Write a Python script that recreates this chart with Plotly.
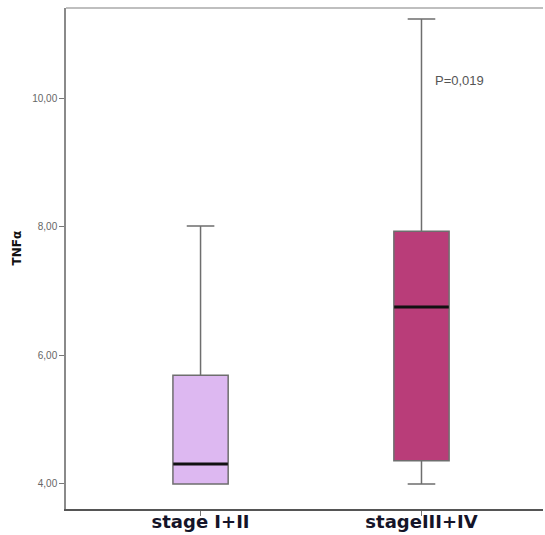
import plotly.graph_objects as go

categories = ["stage I+II", "stageIII+IV"]
q1 = [4.00, 4.36]
medians = [4.31, 6.75]
q3 = [5.69, 7.93]
lower = [4.00, 4.00]
upper = [8.01, 11.23]
fills = ["#DDB8F1", "#B93D79"]

ytick_vals = [4, 6, 8, 10]
ytick_text = ["4,00", "6,00", "8,00", "10,00"]

fig = go.Figure()
for i, cat in enumerate(categories):
    fig.add_trace(go.Box(
        x=[cat], q1=[q1[i]], median=[medians[i]], q3=[q3[i]],
        lowerfence=[lower[i]], upperfence=[upper[i]],
        fillcolor=fills[i], line=dict(color="#6e6e6e", width=1.5),
        width=0.25, whiskerwidth=0.5, boxpoints=False,
        hoverinfo="skip", showlegend=False,
    ))

fig.add_trace(go.Scatter(
    x=categories, y=medians, mode="markers",
    marker=dict(symbol="line-ew", size=39, color="black",
                line=dict(color="#111111", width=3)),
    hoverinfo="skip", showlegend=False,
))

fig.update_layout(
    width=545, height=535,
    margin=dict(l=66, r=2, t=8, b=26),
    plot_bgcolor="white", paper_bgcolor="white",
    xaxis=dict(
        type="category", range=[-0.609, 1.55], automargin=False,
        showline=True, linecolor="#555555", linewidth=1.5,
        ticks="outside", ticklen=5, tickcolor="#777777",
        ticklabelstandoff=-9,
        showgrid=False, zeroline=False,
        tickfont=dict(family="DejaVu Sans, sans-serif", size=18,
                      color="#141428", weight="bold"),
    ),
    yaxis=dict(
        range=[3.61, 11.40], automargin=False,
        tickvals=ytick_vals, ticktext=ytick_text,
        showline=True, linecolor="#8a8a8a", linewidth=1.5,
        ticks="outside", ticklen=5, tickcolor="#777777",
        showgrid=False, zeroline=False,
        tickfont=dict(family="Liberation Sans Narrow, Arial Narrow, sans-serif",
                      size=10, color="#666666"),
    ),
    shapes=[dict(type="line", xref="paper", yref="paper", x0=0, x1=1, y0=1, y1=1,
                 line=dict(color="#aaaaaa", width=1.5))],
    annotations=[
        dict(text="TNFα", xref="paper", yref="paper", x=-0.1027, y=0.52,
             textangle=-90, showarrow=False, xanchor="center", yanchor="middle",
             font=dict(family="DejaVu Sans, sans-serif", size=12,
                       color="#111111", weight="bold")),
        dict(text="P=0,019", xref="paper", yref="paper", x=0.824, y=0.856,
             showarrow=False, xanchor="center", yanchor="middle",
             font=dict(family="Liberation Sans Narrow, Arial Narrow, sans-serif",
                       size=13, color="#555555")),
    ],
)

fig.write_html("out.html")
